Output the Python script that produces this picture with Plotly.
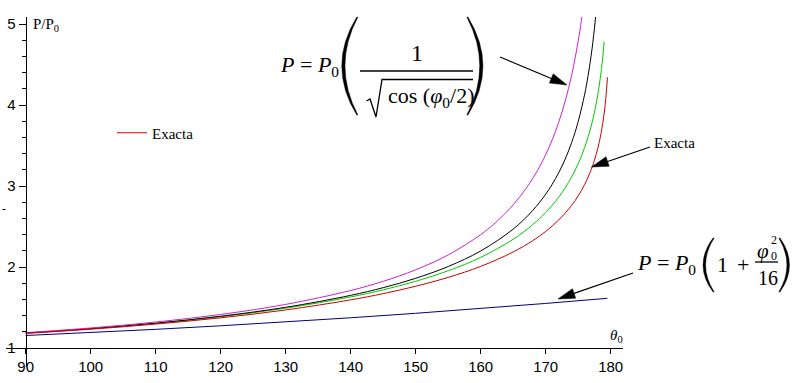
import math
import plotly.graph_objects as go

# ---------------- data ----------------
theta_exact = [90, 100, 110, 120, 130, 140, 145, 150, 155, 160, 165, 168, 170, 171, 172, 173,
               174, 175, 176, 177, 177.5, 178, 178.5, 179, 179.25, 179.5]
p_exact = [1.1803, 1.2322, 1.2953, 1.3729, 1.4698, 1.5945, 1.6715, 1.7622, 1.8715, 2.0075,
           2.1854, 2.3248, 2.4394, 2.5057, 2.5801, 2.6645, 2.7621, 2.8777, 3.0193, 3.2021,
           3.3180, 3.4600, 3.6430, 3.9010, 4.0842, 4.3421]

theta_green = [90, 100, 110, 120, 130, 140, 145, 150, 155, 160, 165, 168, 170, 171, 172, 173,
               174, 175, 176, 177, 177.5, 178, 178.5, 178.75, 179]
p_green = [1.1833, 1.2372, 1.3036, 1.3863, 1.4917, 1.6306, 1.7183, 1.8236, 1.9532, 2.1186,
           2.3419, 2.5219, 2.6730, 2.7619, 2.8624, 2.9779, 3.1130, 3.2751, 3.4766, 3.7408,
           3.9105, 4.1202, 4.3934, 4.5681, 4.7831]

theta_black = [90, 100, 110, 120, 130, 140, 145, 150, 155, 160, 165, 168, 170, 171, 172, 173,
               174, 175, 176, 176.5, 177, 177.5, 178]
p_black = [1.1845, 1.2394, 1.3072, 1.3926, 1.5026, 1.6500, 1.7448, 1.8606, 2.0061, 2.1978,
           2.4682, 2.6977, 2.8990, 3.0213, 3.1637, 3.3325, 3.5376, 3.7953, 4.1346, 4.3512,
           4.6149, 4.9463, 5.3834]

theta_mag = [90, 100, 110, 120, 130, 140, 145, 150, 155, 160, 162, 164, 165, 166, 167, 168,
             169, 170, 171, 172, 173, 174, 175, 175.5, 176]
p_mag = [1.1892, 1.2473, 1.3204, 1.4142, 1.5383, 1.7099, 1.8236, 1.9656, 2.1495, 2.3998,
         2.5283, 2.6805, 2.7679, 2.8645, 2.9722, 3.0930, 3.2301, 3.3873, 3.5701, 3.7863,
         4.0473, 4.3712, 4.7881, 5.0469, 5.3529]

theta_blue = [90, 100, 110, 120, 130, 140, 150, 160, 170, 179.5]
p_blue = [1.1542, 1.1904, 1.2304, 1.2742, 1.3218, 1.3732, 1.4284, 1.4874, 1.5502, 1.6134]

x_ticks = [90, 100, 110, 120, 130, 140, 150, 160, 170, 180]
y_ticks = [1, 2, 3, 4, 5]
y_minor = [1.2, 1.4, 1.6, 1.8, 2.2, 2.4, 2.6, 2.8, 3.2, 3.4, 3.6, 3.8, 4.2, 4.4, 4.6, 4.8]

# ---------------- layout geometry ----------------
W, H = 794, 383
L, R, T, B = 6, 171, 17, 16
PW, PH = W - L - R, H - T - B
X_AT_90, PX_PER_DEG = 25.7, 6.5
Y_AT_1, PX_PER_UNIT = 348, 81.0
x0 = 90 - (X_AT_90 - L) / PX_PER_DEG
x1 = x0 + PW / PX_PER_DEG
ytop = 1 + (Y_AT_1 - T) / PX_PER_UNIT
ybot = ytop - PH / PX_PER_UNIT


def px(x):
    return (x - L) / PW


def py(y):
    return (H - B - y) / PH


SERIF = "Liberation Serif"
SANS = "Liberation Sans Narrow, Liberation Sans, Arial, sans-serif"

fig = go.Figure()
common = dict(mode="lines", hoverinfo="skip")
fig.add_trace(go.Scatter(x=theta_blue, y=p_blue, line=dict(color="#000080", width=1),
                         showlegend=False, **common))
fig.add_trace(go.Scatter(x=theta_green, y=p_green, line=dict(color="#00cc00", width=1, shape="spline"),
                         showlegend=False, **common))
fig.add_trace(go.Scatter(x=theta_black, y=p_black, line=dict(color="#000000", width=1, shape="spline"),
                         showlegend=False, **common))
fig.add_trace(go.Scatter(x=theta_mag, y=p_mag, line=dict(color="#cc22cc", width=1, shape="spline"),
                         showlegend=False, **common))
fig.add_trace(go.Scatter(x=theta_exact, y=p_exact, line=dict(color="#cc0000", width=1, shape="spline"),
                         name="Exacta", showlegend=True, **common))

shapes = []
annotations = []


def P(x, y):
    return f"{px(x):.5f},{py(y):.5f}"


def line(xa, ya, xb, yb, w=1.0):
    shapes.append(dict(type="line", xref="paper", yref="paper", x0=px(xa), y0=py(ya),
                       x1=px(xb), y1=py(yb), line=dict(color="black", width=w)))


def arrow(tail, tip, head_len=17, half_w=5):
    dx, dy = tip[0] - tail[0], tip[1] - tail[1]
    n = math.hypot(dx, dy)
    ux, uy = dx / n, dy / n
    bx, by = tip[0] - head_len * ux, tip[1] - head_len * uy
    qx, qy = -uy, ux
    line(tail[0], tail[1], bx, by, 1.2)
    path = f"M{P(*tip)} L{P(bx + half_w * qx, by + half_w * qy)} L{P(bx - half_w * qx, by - half_w * qy)} Z"
    shapes.append(dict(type="path", xref="paper", yref="paper", path=path,
                       fillcolor="black", line=dict(color="black", width=0.5)))


def paren(x_end, x_ext, y_top, y_bot, thick, left=True):
    ym = (y_top + y_bot) / 2
    s = 1 if left else -1
    c_out = 2 * x_ext - x_end
    x_end_in = x_end + s * 1.2
    c_in = 2 * (x_ext + s * thick) - x_end_in
    path = (f"M{P(x_end, y_top)} Q{P(c_out, ym)} {P(x_end, y_bot)} "
            f"L{P(x_end_in, y_bot)} Q{P(c_in, ym)} {P(x_end_in, y_top)} Z")
    shapes.append(dict(type="path", xref="paper", yref="paper", path=path,
                       fillcolor="black", line=dict(color="black", width=0.4)))


def text(s, x, y, size, xanchor="center", family=SERIF, yanchor="middle"):
    annotations.append(dict(text=s, x=px(x), y=py(y), xref="paper", yref="paper",
                            xanchor=xanchor, yanchor=yanchor, showarrow=False,
                            font=dict(family=family, size=size, color="black")))


# equation 1: P = P0 ( 1 / sqrt(cos(phi0/2)) )
text("<i>P</i> = <i>P</i><sub>0</sub>", 341, 66, 22, xanchor="right")
paren(356.7, 341.7, 17, 115, 3.3, left=True)
paren(468, 483, 17, 115, 3.3, left=False)
text("1", 417, 53, 24)
line(360, 71, 473, 71, 1.4)
shapes.append(dict(type="path", xref="paper", yref="paper",
                   path=f"M{P(366.5, 101)} L{P(370, 99)} L{P(376, 117)} L{P(382, 79.5)} L{P(473, 79.5)}",
                   line=dict(color="black", width=1.3)))
text("cos (<i>φ</i><sub>0</sub>/2)", 386, 97, 22, xanchor="left")
arrow((500, 57), (567, 85))

# Exacta callout
text("Exacta", 652, 143, 15, xanchor="left")
arrow((650, 147), (591.5, 167))

# equation 2: P = P0 (1 + phi0^2/16)
text("<i>P</i> = <i>P</i><sub>0</sub>", 698, 264, 22, xanchor="right")
paren(713, 703, 238, 292, 2.6, left=True)
paren(780, 789.5, 238, 292, 2.6, left=False)
text("1", 722.5, 264, 22)
text("+", 742.5, 264, 22)
text("<i>φ</i>", 762.5, 251, 21)
text("2", 773.5, 240, 12)
text("0", 773.5, 256, 12)
line(755, 262, 778, 262, 1.3)
text("16", 767.5, 278, 20)
arrow((633, 273), (558, 299))

# axis labels
text("P/P<sub>0</sub>", 31, 25, 15, xanchor="left")
text("<i>θ</i><sub>0</sub>", 608, 336, 15, xanchor="left")
text("-", 4, 209, 12)

fig.update_layout(
    width=W, height=H,
    margin=dict(l=L, r=R, t=T, b=B, pad=0),
    paper_bgcolor="white", plot_bgcolor="white",
    shapes=shapes, annotations=annotations,
    showlegend=True, hovermode=False,
    legend=dict(x=px(112), y=py(133), xanchor="left", yanchor="middle",
                font=dict(family=SERIF, size=15, color="black"),
                bgcolor="rgba(0,0,0,0)", borderwidth=0),
    xaxis=dict(range=[x0, x1], anchor="free", position=(1 - ybot) / (ytop - ybot),
               showline=True, linecolor="black", linewidth=1, showgrid=False, zeroline=False,
               tickmode="array", tickvals=x_ticks, ticktext=[str(v) for v in x_ticks],
               ticks="outside", ticklen=5, tickcolor="black",
               tickfont=dict(family=SANS, size=15, color="black")),
    yaxis=dict(range=[ybot, ytop], anchor="free", position=(90 - x0) / (x1 - x0),
               showline=True, linecolor="black", linewidth=1, showgrid=False, zeroline=False,
               tickmode="array", tickvals=y_ticks, ticktext=[str(v) for v in y_ticks],
               ticks="outside", ticklen=7, tickcolor="black",
               minor=dict(tickmode="array", tickvals=y_minor, ticks="outside", ticklen=4,
                          tickcolor="black", showgrid=False),
               tickfont=dict(family=SANS, size=15, color="black")),
)

fig.write_html("out.html", config={"displayModeBar": False, "staticPlot": True},
               post_script="document.body.style.margin='0px';document.body.style.overflow='hidden';")
